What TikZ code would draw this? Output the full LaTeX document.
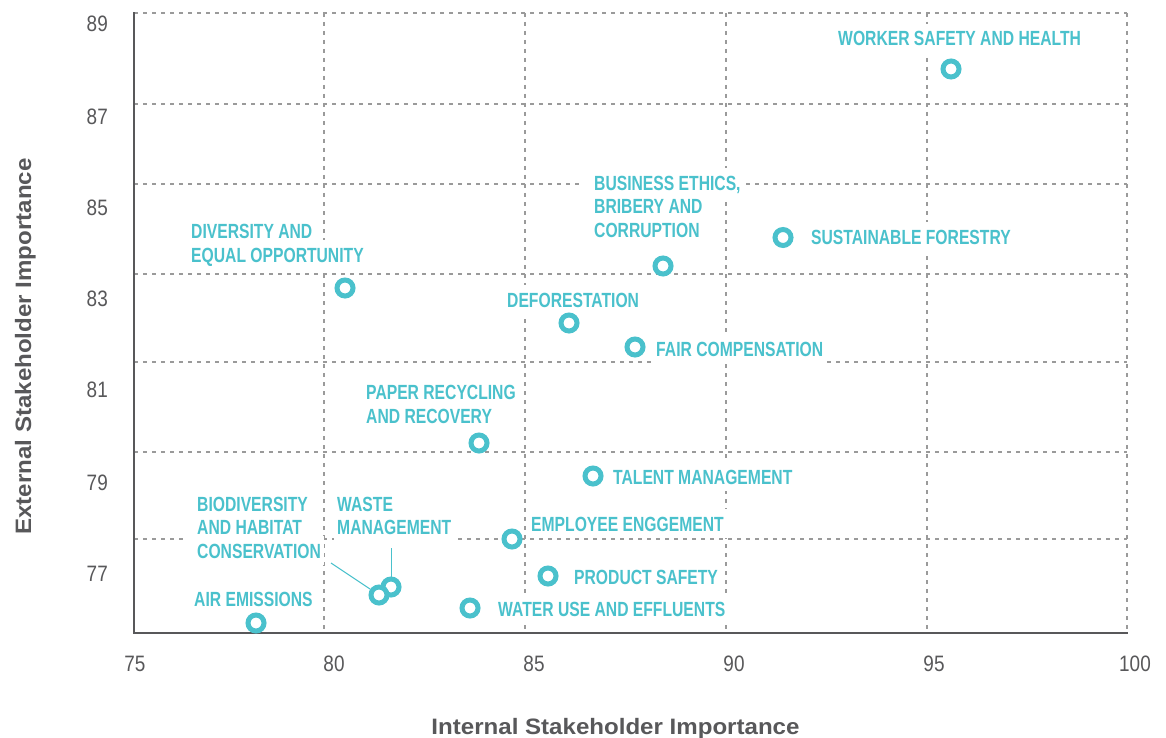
\documentclass[tikz,border=0pt]{standalone}
\usepackage{fontspec}
\setmainfont{Liberation Sans}
\newfontfamily\condfont[FakeStretch=0.765]{Liberation Sans}
\newfontfamily\tickfont[FakeStretch=0.85]{Liberation Sans}
\newfontfamily\titlefont[FakeStretch=1.08]{Liberation Sans}
\definecolor{tealc}{HTML}{4AC1CC}
\definecolor{gridc}{HTML}{9A9A9A}
\definecolor{axisc}{HTML}{58585A}
\tikzset{
  gridline/.style={draw=gridc, line width=1.4pt, dash pattern=on 4pt off 5pt},
  axisline/.style={draw=axisc, line width=2.6pt, line cap=rect},
  ticklab/.style={font=\tickfont\fontsize{22.3}{24}\selectfont, text=axisc, inner sep=0pt},
  lab/.style={font=\condfont\bfseries\fontsize{20.5}{24}\selectfont, text=tealc, fill=white,
    inner xsep=3pt, inner ysep=7pt, text height=14.7pt, text depth=0pt, anchor=base west},
  dot/.style={circle, draw=tealc, line width=5pt, minimum size=16pt, inner sep=0pt, fill=white},
  lead/.style={draw=tealc, line width=1pt},
  axtitle/.style={font=\titlefont\bfseries\fontsize{22.3}{24}\selectfont, text=axisc, inner sep=0pt}
}
\begin{document}
\begin{tikzpicture}[x=1pt,y=-1pt]
\useasboundingbox[fill=white] (0,0) rectangle (1166,738);
% grid
\foreach \y in {13,104,184,274,362,452,539} \draw[gridline] (134,\y) -- (1127,\y);
\foreach \x in {324,525,726,927,1127} \draw[gridline] (\x,13) -- (\x,633);
\draw[axisline] (134,13) -- (134,633) -- (1127,633);
% tick labels
\node[ticklab, anchor=east] (y89) at (108,24) {89};
\node[ticklab, anchor=east] (y87) at (108,117) {87};
\node[ticklab, anchor=east] (y85) at (108,208) {85};
\node[ticklab, anchor=east] (y83) at (108,299) {83};
\node[ticklab, anchor=east] (y81) at (108,390) {81};
\node[ticklab, anchor=east] (y79) at (108,483) {79};
\node[ticklab, anchor=east] (y77) at (108,573.5) {77};
\node[ticklab] (x75) at (135,664) {75};
\node[ticklab] (x80) at (334,664) {80};
\node[ticklab] (x85) at (534,664) {85};
\node[ticklab] (x90) at (734,664) {90};
\node[ticklab] (x95) at (934,664) {95};
\node[ticklab] (x100) at (1135,664) {100};
% axis titles
\node[axtitle, anchor=base] (xt) at (615.5,734) {Internal Stakeholder Importance};
\node[axtitle, anchor=base, rotate=90] (yt) at (31,346.5) {External Stakeholder Importance};
% labels
\node[lab] (lwsh) at (835,46) {WORKER SAFETY AND HEALTH};
\node[lab] (lsf) at (808,244) {SUSTAINABLE FORESTRY};
\node[lab] (lbus3) at (591,237) {CORRUPTION};
\node[lab] (lbus2) at (591,213.5) {BRIBERY AND};
\node[lab] (lbus1) at (591,190) {BUSINESS ETHICS,};
\fill[white] ([xshift=-11pt]lbus1.south west) rectangle (lbus1.north west);
\node[lab] (ldef) at (504,307) {DEFORESTATION};
\node[lab] (lfair) at (653,356) {FAIR COMPENSATION};
\node[lab] (ldiv2) at (188,262) {EQUAL OPPORTUNITY};
\node[lab] (ldiv1) at (188,238.5) {DIVERSITY AND};
\node[lab] (lpap2) at (363,423) {AND RECOVERY};
\node[lab] (lpap1) at (363,399) {PAPER RECYCLING};
\node[lab] (ltal) at (610,484) {TALENT MANAGEMENT};
\node[lab] (lemp) at (528,531) {EMPLOYEE ENGGEMENT};
\node[lab] (lprod) at (571,584) {PRODUCT SAFETY};
\node[lab] (lwat) at (495,616) {WATER USE AND EFFLUENTS};
\node[lab] (lwas2) at (334,534) {MANAGEMENT};
\node[lab] (lwas1) at (334,511) {WASTE};
\node[lab] (lbio3) at (194,558) {CONSERVATION};
\node[lab] (lbio2) at (194,534) {AND HABITAT};
\node[lab] (lbio1) at (194,511) {BIODIVERSITY};
\fill[white] ([xshift=-11pt]lbio3.south west) rectangle (lbio3.north west);
\node[lab] (lair) at (191,606) {AIR EMISSIONS};
% leader end points
\coordinate (bioL) at (331,563);
\coordinate (wasL) at (391,548);
% markers
\node[dot] (wsh) at (951,69) {};
\node[dot] (sf) at (783,237.5) {};
\node[dot] (bus) at (663,266) {};
\node[dot] (def) at (569,323) {};
\node[dot] (fair) at (635,347) {};
\node[dot] (div) at (345,288) {};
\node[dot] (pap) at (479,443) {};
\node[dot] (tal) at (593,476) {};
\node[dot] (emp) at (512,539) {};
\node[dot] (prod) at (548,576) {};
\node[dot] (wat) at (470,608) {};
\node[dot] (was) at (391,587) {};
\node[dot] (bio) at (379,595) {};
\node[dot] (air) at (256,623) {};
\draw[lead] (bioL) -- (bio);
\draw[lead] (wasL) -- (was);
\end{tikzpicture}
\end{document}
